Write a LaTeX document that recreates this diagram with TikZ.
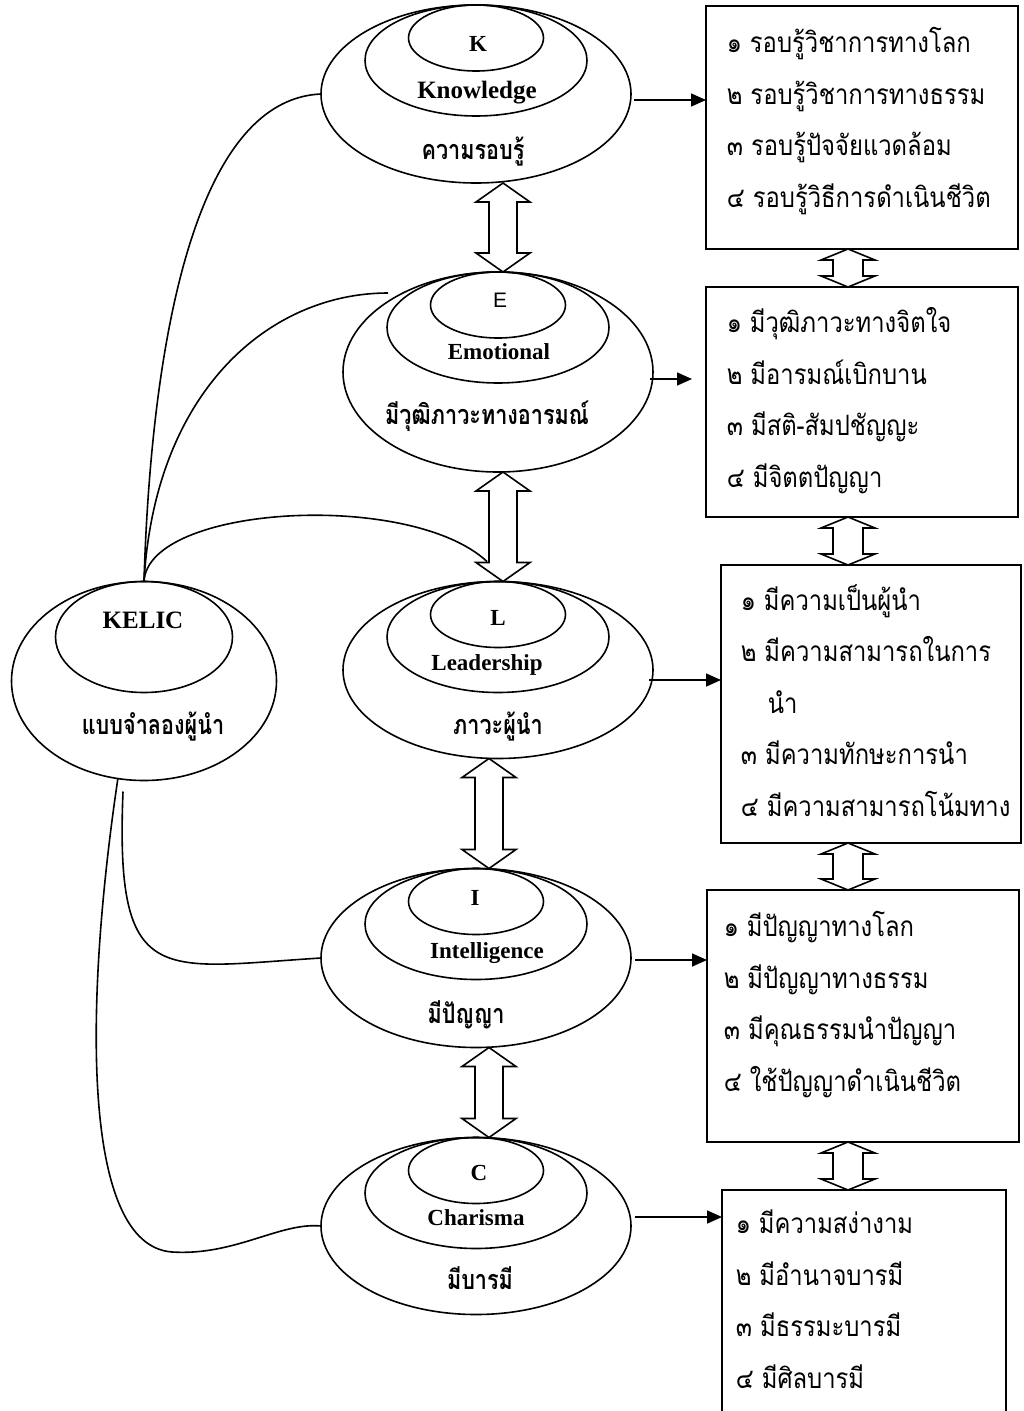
\documentclass[tikz,border=0pt]{standalone}
\usepackage{fontspec}
\setmainfont{Liberation Serif}
\newfontfamily\thaifont[Script=Thai,FakeStretch=0.85]{Loma}
\newfontfamily\thaibold[Script=Thai,FakeStretch=0.8]{Loma}
\newfontfamily\sansfont{Liberation Sans}
\usetikzlibrary{shapes.geometric,arrows.meta,calc,positioning}

% block arrow with two heads: head length, half shaft, top tip, bottom tip
\newcommand{\twoway}[4]{%
  \draw[bigarrow] (#3) -- ++(27,#1) -- ++({#2-27},0) -- ($(#4)+(#2,-#1)$)
    -- ++({27-#2},0) -- (#4) -- ++(-27,-#1) -- ++({27-#2},0)
    -- ($(#3)+(-#2,#1)$) -- ++({#2-27},0) -- cycle;}

\begin{document}
\begin{tikzpicture}[x=1pt, y=-1pt,
  ringout/.style={ellipse, draw, inner sep=0pt, outer sep=0pt, minimum width=310pt},
  ringmid/.style={ellipse, draw, inner sep=0pt, outer sep=0pt, minimum width=222pt, minimum height=111pt, anchor=north},
  ringin/.style={ellipse, draw, inner sep=0pt, outer sep=0pt, minimum width=135pt, minimum height=66pt, anchor=north},
  listbox/.style={rectangle, draw, inner sep=0pt, outer sep=0pt},
  letterlab/.style={font=\bfseries\fontsize{23}{23}\selectfont, anchor=base, inner sep=0pt},
  wordlab/.style={font=\bfseries\fontsize{23}{23}\selectfont, anchor=base, inner sep=0pt},
  thailab/.style={font=\thaibold\bfseries\fontsize{27}{27}\selectfont, anchor=base, inner sep=0pt},
  itemlist/.style={font=\thaifont\fontsize{28}{51.5}\selectfont, align=left, anchor=base west, inner sep=0pt},
  tolist/.style={-{Triangle[length=15pt,width=13pt]}},
  bigarrow/.style={fill=white, line join=miter}]
\fill[white] (0,0) rectangle (1024,1411);
\useasboundingbox (0,0) rectangle (1024,1411);
\begin{scope}[line width=1.6pt]

  % K knowledge
  \node[ringout, minimum height=178pt] (K) at (476,94) {};
  \node[ringmid] (Km) at (K.north) {};
  \node[ringin] (Ki) at (K.north) {};
  \node[letterlab] (Kl) at (478,51) {K};
  \node[wordlab, font=\bfseries\fontsize{25}{25}\selectfont] (Kw) at (477,98) {Knowledge};
  \node[thailab] (Kt) at (473,159) {ความรอบรู้};

  % E emotional
  \node[ringout, minimum height=200pt] (E) at (498,372) {};
  \node[ringmid] (Em) at (E.north) {};
  \node[ringin] (Ei) at (E.north) {};
  \node[letterlab, font=\sansfont\fontsize{21}{21}\selectfont] (El) at (500,307) {E};
  \node[wordlab] (Ew) at (499,359) {Emotional};
  \node[thailab] (Et) at (487,424) {มีวุฒิภาวะทางอารมณ์};

  % L leadership
  \node[ringout, minimum height=177pt] (L) at (498,670) {};
  \node[ringmid] (Lm) at (L.north) {};
  \node[ringin] (Li) at (L.north) {};
  \node[letterlab] (Ll) at (498,625) {L};
  \node[wordlab] (Lw) at (487,670) {Leadership};
  \node[thailab] (Lt) at (498,734) {ภาวะผู้นำ};

  % I intelligence
  \node[ringout, minimum height=179pt] (I) at (476,958) {};
  \node[ringmid] (Im) at (I.north) {};
  \node[ringin] (Ii) at (I.north) {};
  \node[letterlab] (Il) at (475,905) {I};
  \node[wordlab] (Iw) at (487,958) {Intelligence};
  \node[thailab] (It) at (466,1023) {มีปัญญา};

  % C charisma
  \node[ringout, minimum height=177pt] (C) at (476,1226) {};
  \node[ringmid] (Cm) at (C.north) {};
  \node[ringin] (Ci) at (C.north) {};
  \node[letterlab] (Cl) at (479,1180) {C};
  \node[wordlab] (Cw) at (476,1225) {Charisma};
  \node[thailab] (Ct) at (480,1289) {มีบารมี};

  % KELIC model
  \node[ringout, minimum width=265pt, minimum height=199pt] (KELIC) at (144,681) {};
  \node[ringin, minimum width=177pt, minimum height=111pt] (KELICi) at (KELIC.north) {};
  \node[letterlab, font=\bfseries\fontsize{25}{25}\selectfont] (KELICl) at (143,628) {KELIC};
  \node[thailab] (KELICt) at (153,734) {แบบจำลองผู้นำ};

  % lists (anchored at the baseline of the last line)
  \node[listbox, line width=2.4pt, minimum width=312pt, minimum height=243pt] (Kbox) at (862,127.5) {};
  \node[itemlist] (Klist) at (726,207) {๑ รอบรู้วิชาการทางโลก\\๒ รอบรู้วิชาการทางธรรม\\๓ รอบรู้ปัจจัยแวดล้อม\\๔ รอบรู้วิธีการดำเนินชีวิต};
  \node[listbox, minimum width=312pt, minimum height=230pt] (Ebox) at (862,402) {};
  \node[itemlist] (Elist) at (726,487) {๑ มีวุฒิภาวะทางจิตใจ\\๒ มีอารมณ์เบิกบาน\\๓ มีสติ-สัมปชัญญะ\\๔ มีจิตตปัญญา};
  \node[listbox, minimum width=300pt, minimum height=278pt] (Lbox) at (871,704) {};
  \node[itemlist] (Llist) at (740,816) {๑ มีความเป็นผู้นำ\\๒ มีความสามารถในการ\\\hspace*{27pt}นำ\\๓ มีความทักษะการนำ\\๔ มีความสามารถโน้มทาง};
  \node[listbox, minimum width=312pt, minimum height=252pt] (Ibox) at (863,1016) {};
  \node[itemlist] (Ilist) at (723,1091) {๑ มีปัญญาทางโลก\\๒ มีปัญญาทางธรรม\\๓ มีคุณธรรมนำปัญญา\\๔ ใช้ปัญญาดำเนินชีวิต};
  \node[listbox, minimum width=284pt, minimum height=225pt] (Cbox) at (864,1302.5) {};
  \node[itemlist] (Clist) at (735,1388) {๑ มีความสง่างาม\\๒ มีอำนาจบารมี\\๓ มีธรรมะบารมี\\๔ มีศิลบารมี};

  % ring to list
  \draw[tolist] ($(K.east)+(3,6)$) coordinate (ka) -- (ka -| Kbox.west);
  \draw[tolist] ($(E.east)+(-3,7)$) coordinate (ea) -- ++(42,0);
  \draw[tolist] ($(L.east)+(-4,10)$) coordinate (la) -- (la -| Lbox.west);
  \draw[tolist] ($(I.east)+(4,2)$) coordinate (ia) -- (ia -| Ibox.west);
  \draw[tolist] ($(C.east)+(4,-9)$) coordinate (ca) -- (ca -| Cbox.west);

  % two-way arrows between rings
  \coordinate (KEa) at ($(K.south)+(27,0)$);  \coordinate (KEb) at ($(E.north)+(5,0)$);
  \coordinate (ELa) at ($(E.south)+(5,0)$);   \coordinate (ELb) at ($(L.north)+(5,0)$);
  \coordinate (LIa) at ($(L.south)+(-9,0)$);  \coordinate (LIb) at ($(I.north)+(13,0)$);
  \coordinate (ICa) at ($(I.south)+(13,0)$);  \coordinate (ICb) at ($(C.north)+(13,0)$);
  \twoway{19}{14}{KEa}{KEb}
  \twoway{19}{14}{ELa}{ELb}
  \twoway{19}{14}{LIa}{LIb}
  \twoway{19}{14}{ICa}{ICb}

  % two-way arrows between lists
  \coordinate (KEc) at ($(Kbox.south)+(-14,0)$); \coordinate (KEd) at ($(Ebox.north)+(-14,0)$);
  \coordinate (ELc) at ($(Ebox.south)+(-14,0)$); \coordinate (ELd) at ($(Lbox.north)+(-23,0)$);
  \coordinate (LIc) at ($(Lbox.south)+(-23,0)$); \coordinate (LId) at ($(Ibox.north)+(-15,0)$);
  \coordinate (ICc) at ($(Ibox.south)+(-15,0)$); \coordinate (ICd) at ($(Cbox.north)+(-16,0)$);
  \twoway{11}{15}{KEc}{KEd}
  \twoway{11}{15}{ELc}{ELd}
  \twoway{11}{15}{LIc}{LId}
  \twoway{11}{15}{ICc}{ICd}

  % KELIC to the rings
  \coordinate (e0) at ($(E.west)+(45,-79)$);
  \coordinate (l0) at ($(L.north)+(-11,-20)$);
  \coordinate (i0) at ($(KELIC.south)+(-21,11)$);
  \draw (KELIC.north) .. controls (150,380) and (185,100) .. (K.west);
  \draw (KELIC.north) .. controls (155,390) and (270,293) .. (e0);
  \draw (KELIC.north) .. controls (148,505) and (410,490) .. (l0);
  \draw (i0) .. controls (115,990) and (160,968) .. (I.west);
  \draw (KELIC.255) .. controls (85,1000) and (80,1245) .. (172,1252)
        .. controls (235,1256) and (280,1222) .. (C.west);
\end{scope}
\end{tikzpicture}
\end{document}
